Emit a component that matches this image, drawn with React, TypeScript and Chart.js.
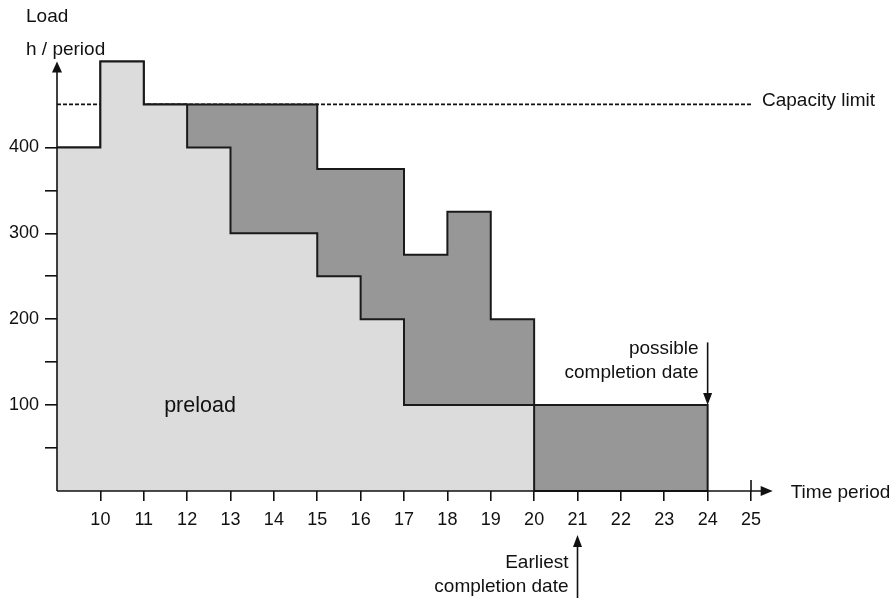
import React, { useEffect, useRef } from "react";
import { Chart, registerables } from "chart.js";

Chart.register(...registerables);

// ---- data ----
const periods = [9, 10, 11, 12, 13, 14, 15, 16, 17, 18, 19, 20, 21, 22, 23, 24];
const preload = [400, 500, 450, 400, 300, 300, 250, 200, 100, 100, 100, 0, 0, 0, 0, 0];
const totalLoad = [400, 500, 450, 450, 450, 450, 375, 375, 275, 325, 200, 100, 100, 100, 100, 0];
const capacityLimit = 450;
const capacityRange = [9, 25];
const xTickValues = [10, 11, 12, 13, 14, 15, 16, 17, 18, 19, 20, 21, 22, 23, 24, 25];
const yTickValues = [50, 100, 150, 200, 250, 300, 350, 400];
const yLabelStep = 100;
const xMin = 9;
const xMax = 25.5;
const yMin = 0;
const yMax = 500;
const possibleCompletion = 24;
const earliestCompletion = 21;

const FONT = "'Liberation Sans', Arial, Helvetica, sans-serif";
const INK = "#111111";

const annotationPlugin = {
  id: "annotations",
  afterDraw(chart: any) {
    const { ctx, scales } = chart;
    const x = scales.x;
    const y = scales.y;
    const X = (v: number) => x.getPixelForValue(v);
    const Y = (v: number) => y.getPixelForValue(v);
    ctx.save();
    ctx.strokeStyle = INK;
    ctx.fillStyle = INK;
    ctx.lineWidth = 1.6;

    // y axis with arrow
    const x0 = X(xMin);
    const y0 = Y(yMin);
    const yTop = Y(yMax);
    ctx.beginPath();
    ctx.moveTo(x0, y0);
    ctx.lineTo(x0, yTop + 10);
    ctx.stroke();
    ctx.beginPath();
    ctx.moveTo(x0, yTop);
    ctx.lineTo(x0 - 5, yTop + 11);
    ctx.lineTo(x0 + 5, yTop + 11);
    ctx.closePath();
    ctx.fill();

    // x axis with arrow
    const xEnd = X(xMax);
    ctx.beginPath();
    ctx.moveTo(x0, y0);
    ctx.lineTo(xEnd - 10, y0);
    ctx.stroke();
    ctx.beginPath();
    ctx.moveTo(xEnd, y0);
    ctx.lineTo(xEnd - 12, y0 - 5);
    ctx.lineTo(xEnd - 12, y0 + 5);
    ctx.closePath();
    ctx.fill();

    // last tick crosses the axis
    const xl = X(xTickValues[xTickValues.length - 1]);
    ctx.beginPath();
    ctx.moveTo(xl, y0 - 11);
    ctx.lineTo(xl, y0);
    ctx.stroke();

    // possible completion arrow
    const xp = X(possibleCompletion);
    ctx.beginPath();
    ctx.moveTo(xp, Y(173));
    ctx.lineTo(xp, Y(100) - 10);
    ctx.stroke();
    ctx.beginPath();
    ctx.moveTo(xp, Y(100));
    ctx.lineTo(xp - 4.5, Y(100) - 12);
    ctx.lineTo(xp + 4.5, Y(100) - 12);
    ctx.closePath();
    ctx.fill();

    // earliest completion arrow
    const xe = X(earliestCompletion);
    const tipY = y0 + 44;
    ctx.beginPath();
    ctx.moveTo(xe, chart.height);
    ctx.lineTo(xe, tipY + 10);
    ctx.stroke();
    ctx.beginPath();
    ctx.moveTo(xe, tipY);
    ctx.lineTo(xe - 4.5, tipY + 12);
    ctx.lineTo(xe + 4.5, tipY + 12);
    ctx.closePath();
    ctx.fill();

    // texts
    ctx.textBaseline = "alphabetic";
    ctx.font = `19px ${FONT}`;
    ctx.textAlign = "left";
    ctx.fillText("Load", 26, 21.5);
    ctx.fillText("h / period", 26, 55);
    ctx.fillText("Capacity limit", X(capacityRange[1]) + 11, Y(capacityLimit) + 2);
    ctx.fillText("Time period", xEnd + 18, y0 + 7);

    ctx.textAlign = "right";
    ctx.fillText("possible", xp - 9, Y(159));
    ctx.fillText("completion date", xp - 9, Y(131));
    ctx.fillText("Earliest", xe - 9, y0 + 77);
    ctx.fillText("completion date", xe - 9, y0 + 100.5);

    ctx.textAlign = "left";
    ctx.font = `21.5px ${FONT}`;
    ctx.fillText("preload", X(11.47), Y(100) + 7);
    ctx.restore();
  },
};

export default function App() {
  const canvasRef = useRef<HTMLCanvasElement | null>(null);

  useEffect(() => {
    const canvas = canvasRef.current;
    if (!canvas) return;
    const lineStyle = {
      stepped: true,
      pointRadius: 0,
      borderColor: "#1a1a1a",
      borderWidth: 2,
      clip: false,
    };
    const chart = new Chart(canvas, {
      type: "line",
      data: {
        datasets: [
          {
            label: "Capacity limit",
            data: capacityRange.map((p) => ({ x: p, y: capacityLimit })),
            borderColor: "#111111",
            borderWidth: 1.8,
            borderDash: [4, 2],
            pointRadius: 0,
            fill: false,
            order: 3,
            clip: false,
          },
          {
            label: "preload",
            data: periods.map((p, i) => ({ x: p, y: preload[i] })),
            backgroundColor: "#dcdcdc",
            fill: "origin",
            order: 1,
            ...lineStyle,
          },
          {
            label: "total load",
            data: periods.map((p, i) => ({ x: p, y: totalLoad[i] })),
            backgroundColor: "#979797",
            fill: 1,
            order: 2,
            ...lineStyle,
          },
        ],
      },
      options: {
        animation: false,
        responsive: false,
        events: [],
        layout: { padding: { left: 0, top: 61.5, right: 123.3, bottom: 0 } },
        plugins: {
          legend: { display: false },
          tooltip: { enabled: false },
          title: { display: false },
        },
        scales: {
          x: {
            type: "linear",
            min: xMin,
            max: xMax,
            afterBuildTicks: (scale: any) => {
              scale.ticks = xTickValues.map((v) => ({ value: v }));
            },
            afterFit: (scale: any) => {
              scale.height = 107;
            },
            border: { display: false },
            grid: {
              drawOnChartArea: false,
              drawTicks: true,
              tickLength: 10,
              color: INK,
              lineWidth: 1.6,
            },
            ticks: {
              autoSkip: false,
              maxRotation: 0,
              padding: 8,
              color: INK,
              font: { family: FONT, size: 18 },
              callback: (v: any) => String(v),
            },
          },
          y: {
            type: "linear",
            min: yMin,
            max: yMax,
            afterBuildTicks: (scale: any) => {
              scale.ticks = yTickValues.map((v) => ({ value: v }));
            },
            afterFit: (scale: any) => {
              scale.width = 57;
            },
            border: { display: false },
            grid: {
              drawOnChartArea: false,
              drawTicks: true,
              tickLength: 12,
              color: INK,
              lineWidth: 1.6,
            },
            ticks: {
              autoSkip: false,
              padding: 6,
              color: INK,
              font: { family: FONT, size: 18 },
              callback: (v: any) => (Number(v) % yLabelStep === 0 ? String(v) : ""),
            },
          },
        },
      },
      plugins: [annotationPlugin],
    } as any);
    return () => chart.destroy();
  }, []);

  return (
    <div style={{ position: "fixed", left: 0, top: 0, width: 896, height: 598, background: "#ffffff" }}>
      <canvas ref={canvasRef} width={896} height={598} style={{ display: "block" }} />
    </div>
  );
}
